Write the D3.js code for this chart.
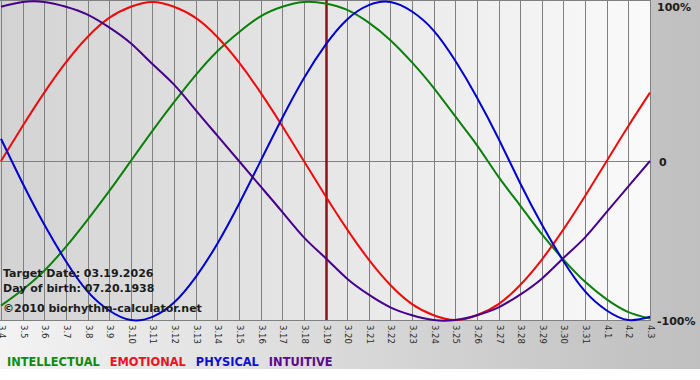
<!DOCTYPE html>
<html lang="en">

<head>
    <meta charset="UTF-8">
    <title>Biorhythm</title>
    <script src="https://d3js.org/d3.v7.min.js"></script>
    <style>
        body { margin: 0; background: #fff; }
        text { font-family: "DejaVu Sans", Verdana, sans-serif; }
    </style>
</head>

<body>
    <div id="chart"></div>
    <script>
        // days shown (month.day)
        const days = ["3.4", "3.5", "3.6", "3.7", "3.8", "3.9", "3.10", "3.11", "3.12", "3.13", "3.14",
            "3.15", "3.16", "3.17", "3.18", "3.19", "3.20", "3.21", "3.22", "3.23", "3.24", "3.25",
            "3.26", "3.27", "3.28", "3.29", "3.30", "3.31", "4.1", "4.2", "4.3"];

        // values in percent
        const intellectual = [-91, -81, -69, -54, -37, -19, 0, 19, 37, 54, 69, 81, 91, 97, 100, 99,
            95, 87, 76, 62, 46, 28, 10, -10, -28, -46, -62, -76, -87, -95, -99];
        const emotional = [0, 22, 43, 62, 78, 90, 97, 100, 97, 90, 78, 62, 43, 22, 0, -22,
            -43, -62, -78, -90, -97, -100, -97, -90, -78, -62, -43, -22, 0, 22, 43];
        const physical = [14, -14, -40, -63, -82, -94, -100, -98, -89, -73, -52, -27, 0, 27, 52, 73,
            89, 98, 100, 94, 82, 63, 40, 14, -14, -40, -63, -82, -94, -100, -98];
        const intuitive = [97, 100, 100, 97, 92, 84, 74, 61, 48, 32, 16, 0, -16, -32, -48, -61,
            -74, -84, -92, -97, -100, -100, -97, -92, -84, -74, -61, -48, -32, -16, 0];

        const targetDay = "3.19";
        const infoLines = ["Target Date: 03.19.2026", "Day of birth: 07.20.1938", "\u00a92010 biorhythm-calculator.net"];
        const yLabels = [[100, "100%"], [0, "0"], [-100, "-100%"]];

        const series = [
            { name: "INTELLECTUAL", values: intellectual, color: "#0a800a", legend: "#118a11" },
            { name: "EMOTIONAL", values: emotional, color: "#ee0a0a", legend: "#ee1122" },
            { name: "PHYSICAL", values: physical, color: "#0000d0", legend: "#1010cc" },
            { name: "INTUITIVE", values: intuitive, color: "#46008c", legend: "#5a0a8c" }
        ];

        const W = 700, H = 380;
        const plotW = 651, plotH = 320;

        const svg = d3.select("#chart").append("svg")
            .attr("width", W)
            .attr("height", H);

        const defs = svg.append("defs");
        const outerGrad = defs.append("linearGradient").attr("id", "outerGrad")
            .attr("x1", 0).attr("x2", 1).attr("y1", 0).attr("y2", 0);
        outerGrad.append("stop").attr("offset", "0%").attr("stop-color", "#f3f3f3");
        outerGrad.append("stop").attr("offset", "93%").attr("stop-color", "#c2c2c2");
        outerGrad.append("stop").attr("offset", "100%").attr("stop-color", "#c0c0c0");

        const plotGrad = defs.append("linearGradient").attr("id", "plotGrad")
            .attr("x1", 0).attr("x2", 1).attr("y1", 0).attr("y2", 0);
        plotGrad.append("stop").attr("offset", "0%").attr("stop-color", "#d3d3d3");
        plotGrad.append("stop").attr("offset", "100%").attr("stop-color", "#fafafa");

        // backgrounds
        svg.append("rect").attr("width", W).attr("height", 369).attr("fill", "url(#outerGrad)");
        svg.append("rect").attr("width", plotW).attr("height", plotH).attr("fill", "url(#plotGrad)");

        const x = d3.scalePoint().domain(days).range([1, 650]);
        const y = d3.scaleLinear().domain([-100, 100]).range([320, 2]);

        // vertical grid + date labels
        const xAxis = svg.append("g")
            .attr("transform", "translate(0," + plotH + ")")
            .call(d3.axisBottom(x).tickSizeInner(-plotH).tickSizeOuter(0).tickPadding(0));
        xAxis.select(".domain").remove();
        xAxis.selectAll(".tick")
            .attr("transform", d => "translate(" + (Math.round(x(d)) + 0.5) + ",0)");
        xAxis.selectAll(".tick line").attr("stroke", "#808080");
        xAxis.selectAll(".tick text")
            .attr("transform", "rotate(90)")
            .attr("x", 5)
            .attr("y", 0)
            .attr("dy", "0.33em")
            .attr("text-anchor", "start")
            .attr("fill", "#2a2a2a")
            .style("font-size", "8.5px");

        // horizontal lines: top, zero, bottom
        svg.selectAll(".hline")
            .data([100, 0, -100])
            .join("line")
            .attr("class", "hline")
            .attr("x1", 0).attr("x2", plotW)
            .attr("y1", d => d === 100 ? 0.5 : Math.round(y(d)) + 0.5)
            .attr("y2", d => d === 100 ? 0.5 : Math.round(y(d)) + 0.5)
            .attr("stroke", "#808080");

        // target date marker
        svg.append("line")
            .attr("x1", Math.round(x(targetDay)) + 0.5).attr("x2", Math.round(x(targetDay)) + 0.5)
            .attr("y1", 0).attr("y2", plotH)
            .attr("stroke", "#8a1414")
            .attr("stroke-width", 2.5);

        const line = d3.line()
            .x((d, i) => x(days[i]))
            .y(d => y(d))
            .curve(d3.curveNatural);

        svg.append("g").selectAll("path")
            .data(series)
            .join("path")
            .attr("d", d => line(d.values))
            .attr("fill", "none")
            .attr("stroke", d => d.color)
            .attr("stroke-width", 2);

        // info text
        svg.append("g").selectAll("text")
            .data(infoLines)
            .join("text")
            .attr("x", 3)
            .attr("y", (d, i) => [277, 292, 312][i])
            .attr("fill", "#1c1c1c")
            .style("font-size", "11px")
            .style("font-weight", "bold")
            .text(d => d);

        // right labels
        svg.append("g").selectAll("text")
            .data(yLabels)
            .join("text")
            .attr("x", d => d[0] === 0 ? 659 : 657)
            .attr("y", d => Math.max(y(d[0]), 6) + 5)
            .attr("fill", "#1c1c1c")
            .style("font-size", "11px")
            .style("font-weight", "bold")
            .text(d => d[1]);

        // legend
        const legend = svg.append("g");
        let lx = 7;
        series.forEach(s => {
            const t = legend.append("text")
                .attr("x", lx)
                .attr("y", 366)
                .attr("fill", s.legend)
                .style("font-size", "11.4px")
                .style("font-weight", "bold")
                .text(s.name);
            lx += t.node().getComputedTextLength() + 10;
        });
    </script>
</body>

</html>
